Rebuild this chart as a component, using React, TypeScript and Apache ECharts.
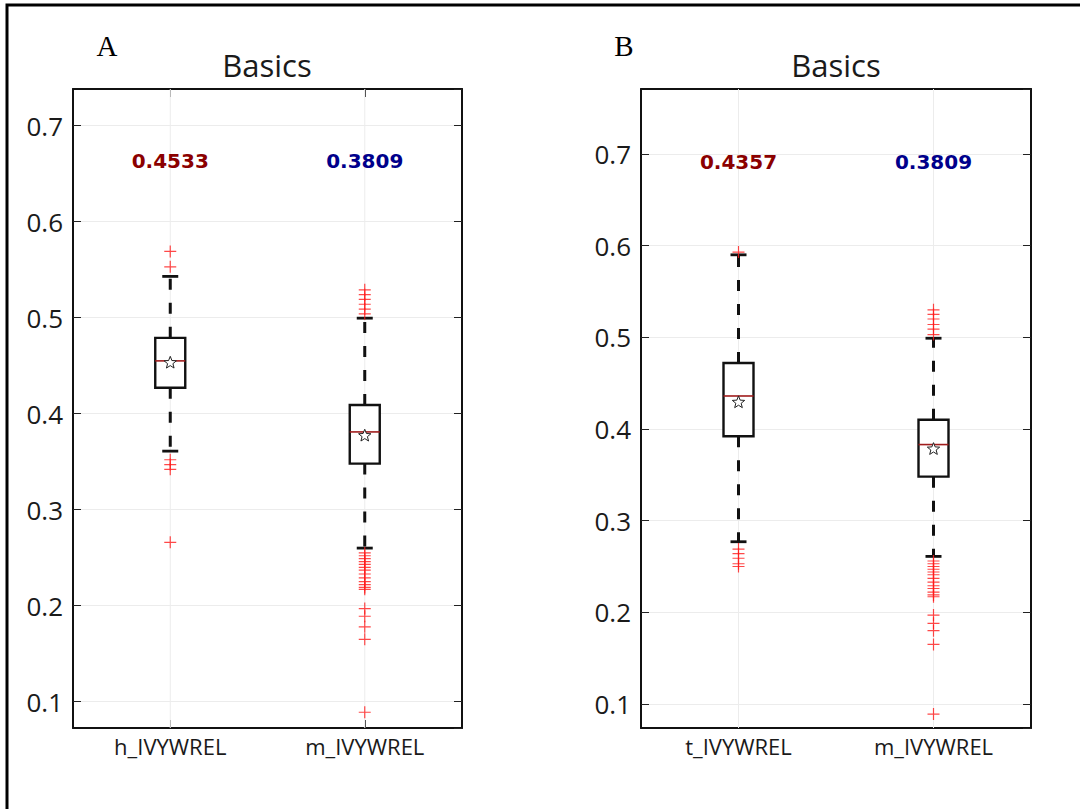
import React, { useEffect, useRef } from "react";
import * as echarts from "echarts";

// ---------- data ----------
const categoriesA = ["h_IVYWREL", "m_IVYWREL"];
const categoriesB = ["t_IVYWREL", "m_IVYWREL"];

// [low whisker, Q1, median, Q3, high whisker]
const boxA_h = [0.361, 0.427, 0.455, 0.479, 0.543];
const boxA_m = [0.26, 0.348, 0.381, 0.409, 0.4995];
const boxB_t = [0.277, 0.392, 0.436, 0.472, 0.59];
const boxB_m = [0.261, 0.348, 0.383, 0.41, 0.499];

const meanA = [0.453, 0.377];
const meanB = [0.429, 0.378];

const outliersA_h = [0.569, 0.553, 0.352, 0.347, 0.342, 0.266];
const outliersA_m = [
  0.529, 0.524, 0.519, 0.514, 0.509, 0.504, 0.255, 0.252, 0.249, 0.246, 0.243,
  0.24, 0.237, 0.233, 0.229, 0.225, 0.222, 0.219, 0.217, 0.197, 0.189, 0.178,
  0.165, 0.089,
];
const outliersB_t = [0.593, 0.269, 0.264, 0.259, 0.253, 0.25];
const outliersB_m = [
  0.53, 0.525, 0.52, 0.514, 0.509, 0.503, 0.256, 0.253, 0.25, 0.247, 0.244,
  0.241, 0.237, 0.233, 0.229, 0.226, 0.222, 0.219, 0.217, 0.197, 0.188, 0.18,
  0.165, 0.089,
];

const annotA = ["0.4533", "0.3809"];
const annotB = ["0.4357", "0.3809"];
const annotColors = ["#8b0000", "#00008b"];
const annotLevelA = 0.663;
const annotLevelB = 0.691;

const yRangeA = [0.0726, 0.7382];
const yRangeB = [0.0738, 0.7709];

const panelLabels = ["A", "B"];
const titleText = "Basics";

// ---------- helpers ----------
const BOX_HALF = 15;
const CAP_HALF = 8;

function starPoints(cx: number, cy: number, ro: number, ri: number) {
  const pts: number[][] = [];
  for (let k = 0; k < 10; k++) {
    const r = k % 2 === 0 ? ro : ri;
    const a = -Math.PI / 2 + (k * Math.PI) / 5;
    pts.push([cx + r * Math.cos(a), cy + r * Math.sin(a)]);
  }
  return pts;
}

function renderBox(params: any, api: any) {
  const i = api.value(0);
  const low = api.coord([i, api.value(1)]);
  const q1 = api.coord([i, api.value(2)]);
  const med = api.coord([i, api.value(3)]);
  const q3 = api.coord([i, api.value(4)]);
  const high = api.coord([i, api.value(5)]);
  const mean = api.coord([i, api.value(6)]);
  const cs = params.coordSys;
  const x = low[0];
  const black = "#111";
  return {
    type: "group",
    children: [
      {
        type: "line",
        shape: { x1: x, y1: cs.y, x2: x, y2: cs.y + cs.height },
        style: { stroke: "#ececec", lineWidth: 1 },
      },
      {
        type: "line",
        shape: { x1: x, y1: q3[1], x2: x, y2: high[1] },
        style: { stroke: black, lineWidth: 3, lineDash: [11, 13] },
      },
      {
        type: "line",
        shape: { x1: x, y1: q1[1], x2: x, y2: low[1] },
        style: { stroke: black, lineWidth: 3, lineDash: [11, 13] },
      },
      {
        type: "line",
        shape: { x1: x - CAP_HALF, y1: high[1], x2: x + CAP_HALF, y2: high[1] },
        style: { stroke: black, lineWidth: 2.8 },
      },
      {
        type: "line",
        shape: { x1: x - CAP_HALF, y1: low[1], x2: x + CAP_HALF, y2: low[1] },
        style: { stroke: black, lineWidth: 2.8 },
      },
      {
        type: "rect",
        shape: { x: x - BOX_HALF, y: q3[1], width: BOX_HALF * 2, height: q1[1] - q3[1] },
        style: { stroke: black, fill: "#fff", lineWidth: 2.4 },
      },
      {
        type: "line",
        shape: { x1: x - BOX_HALF, y1: med[1], x2: x + BOX_HALF, y2: med[1] },
        style: { stroke: "#a01c1c", lineWidth: 1.6 },
      },
      {
        type: "polygon",
        shape: { points: starPoints(x, mean[1], 6.5, 2.8) },
        style: { stroke: "#222", fill: "#fff", lineWidth: 1 },
      },
    ],
  };
}

function makeAnnotRenderer(texts: string[]) {
  return (params: any, api: any) => {
    const i = api.value(0);
    const p = api.coord([i, api.value(1)]);
    return {
      type: "text",
      x: p[0],
      y: p[1],
      style: {
        text: texts[params.dataIndex],
        textAlign: "center",
        textVerticalAlign: "middle",
        font: 'bold 20px "DejaVu Sans"',
        fill: annotColors[params.dataIndex],
      },
    };
  };
}

const PLUS = "path://M0,6L12,6M6,0L6,12";

function outlierData(lists: number[][]) {
  const out: number[][] = [];
  lists.forEach((l, i) => l.forEach((v) => out.push([i, v])));
  return out;
}

function xAxes(gridIndex: number, cats: string[]) {
  const line = { show: true, lineStyle: { color: "#111", width: 2 } };
  return [
    {
      type: "category",
      gridIndex,
      data: cats,
      position: "bottom",
      axisLine: line,
      axisTick: { show: true, inside: true, alignWithLabel: true, length: 8, lineStyle: { color: "#222", width: 1 } },
      axisLabel: { color: "#1a1a1a", fontSize: 22, fontFamily: "Open Sans", margin: 7 },
      splitLine: { show: false },
    },
    {
      type: "category",
      gridIndex,
      data: cats,
      position: "top",
      axisLine: line,
      axisTick: { show: true, inside: true, alignWithLabel: true, length: 8, lineStyle: { color: "#222", width: 1 } },
      axisLabel: { show: false },
      splitLine: { show: false },
    },
  ];
}

function yAxes(gridIndex: number, range: number[]) {
  const line = { show: true, lineStyle: { color: "#111", width: 2 } };
  const tick = { show: true, inside: true, length: 8, lineStyle: { color: "#222", width: 1 } };
  return [
    {
      type: "value",
      gridIndex,
      position: "left",
      min: range[0],
      max: range[1],
      splitNumber: 7,
      axisLine: line,
      axisTick: tick,
      axisLabel: {
        color: "#1a1a1a",
        fontSize: 26,
        fontFamily: "Open Sans",
        margin: 10,
        showMinLabel: false,
        showMaxLabel: false,
        formatter: (v: number) => {
          const r = Math.round(v * 10) / 10;
          return Math.abs(r - v) < 1e-6 ? r.toFixed(1) : "";
        },
      },
      splitLine: { show: true, lineStyle: { color: "#ececec", width: 1 } },
    },
    {
      type: "value",
      gridIndex,
      position: "right",
      min: range[0],
      max: range[1],
      splitNumber: 7,
      axisLine: line,
      axisTick: tick,
      axisLabel: { show: false },
      splitLine: { show: false },
    },
  ];
}

export default function App() {
  const ref = useRef<HTMLDivElement>(null);
  useEffect(() => {
    document.body.style.margin = "0";
    if (!ref.current) return;
    const chart = echarts.init(ref.current, null, { renderer: "svg" });
    const option: any = {
      animation: false,
      backgroundColor: "#fff",
      grid: [
        { left: 73, top: 89, width: 389, height: 639 },
        { left: 641, top: 89, width: 390, height: 639 },
      ],
      xAxis: [...xAxes(0, categoriesA), ...xAxes(1, categoriesB)],
      yAxis: [...yAxes(0, yRangeA), ...yAxes(1, yRangeB)],
      graphic: [
        {
          type: "rect",
          shape: { x: 7, y: 5, width: 1200, height: 1000 },
          style: { stroke: "#000", fill: "none", lineWidth: 3 },
          z: 100,
        },
        {
          type: "text",
          x: 107,
          y: 46,
          style: { text: panelLabels[0], font: '29px "Liberation Serif"', fill: "#000", textAlign: "center", textVerticalAlign: "middle" },
        },
        {
          type: "text",
          x: 624,
          y: 46,
          style: { text: panelLabels[1], font: '29px "Liberation Serif"', fill: "#000", textAlign: "center", textVerticalAlign: "middle" },
        },
        {
          type: "text",
          x: 267,
          y: 65,
          style: { text: titleText, font: '31px "Open Sans"', fill: "#1a1a1a", textAlign: "center", textVerticalAlign: "middle" },
        },
        {
          type: "text",
          x: 836,
          y: 65,
          style: { text: titleText, font: '31px "Open Sans"', fill: "#1a1a1a", textAlign: "center", textVerticalAlign: "middle" },
        },
      ],
      series: [
        {
          type: "custom",
          xAxisIndex: 0,
          yAxisIndex: 0,
          renderItem: renderBox,
          data: [
            [0, ...boxA_h, meanA[0]],
            [1, ...boxA_m, meanA[1]],
          ],
          encode: { x: 0, y: [1, 2, 3, 4, 5] },
          z: 2,
        },
        {
          type: "scatter",
          xAxisIndex: 0,
          yAxisIndex: 0,
          symbol: PLUS,
          symbolSize: 12,
          itemStyle: { color: "none", borderColor: "#ff1a1a", borderWidth: 1.2 },
          data: outlierData([outliersA_h, outliersA_m]),
          z: 3,
        },
        {
          type: "custom",
          xAxisIndex: 0,
          yAxisIndex: 0,
          renderItem: makeAnnotRenderer(annotA),
          data: [
            [0, annotLevelA],
            [1, annotLevelA],
          ],
          z: 4,
        },
        {
          type: "custom",
          xAxisIndex: 2,
          yAxisIndex: 2,
          renderItem: renderBox,
          data: [
            [0, ...boxB_t, meanB[0]],
            [1, ...boxB_m, meanB[1]],
          ],
          encode: { x: 0, y: [1, 2, 3, 4, 5] },
          z: 2,
        },
        {
          type: "scatter",
          xAxisIndex: 2,
          yAxisIndex: 2,
          symbol: PLUS,
          symbolSize: 12,
          itemStyle: { color: "none", borderColor: "#ff1a1a", borderWidth: 1.2 },
          data: outlierData([outliersB_t, outliersB_m]),
          z: 3,
        },
        {
          type: "custom",
          xAxisIndex: 2,
          yAxisIndex: 2,
          renderItem: makeAnnotRenderer(annotB),
          data: [
            [0, annotLevelB],
            [1, annotLevelB],
          ],
          z: 4,
        },
      ],
    };
    chart.setOption(option);
    return () => chart.dispose();
  }, []);
  return <div ref={ref} style={{ width: 1080, height: 809 }} />;
}
